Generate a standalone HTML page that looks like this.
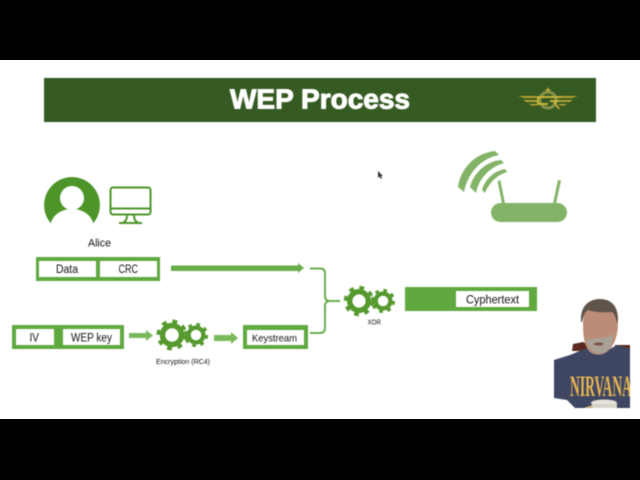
<!DOCTYPE html>
<html><head><meta charset="utf-8"><title>WEP Process</title>
<style>
html,body{margin:0;padding:0;background:#000;width:640px;height:480px;overflow:hidden}
svg{display:block}
#c{filter:blur(.4px)}
text{font-family:"Liberation Sans",sans-serif;fill:#111}
</style></head><body>
<svg width="640" height="480" viewBox="0 0 640 480" xmlns="http://www.w3.org/2000/svg">
<defs>
<clipPath id="av"><path d="M44 205a28 28 0 1 1 56 0c0 8-3 14-7 19H51c-4-5-7-11-7-19z"/></clipPath>
<clipPath id="ph"><rect x="554" y="290" width="76" height="118"/></clipPath>
<g id="gear"><circle r="9.500" fill="none" stroke="#55992f" stroke-width="5.500"/><circle r="13" fill="none" stroke="#55992f" stroke-width="5" stroke-dasharray="4.600 5.610" stroke-linejoin="round"/></g>
</defs>
<rect width="640" height="480" fill="#000"/>
<rect x="0" y="60" width="640" height="359" fill="#fff"/>
<g id="c">
<rect x="44" y="78" width="552" height="44" fill="#355a22"/>
<text x="230" y="108.500" font-size="28" font-weight="700" textLength="180" lengthAdjust="spacingAndGlyphs" style="fill:#fff;stroke:#fff;stroke-width:1">WEP Process</text>
<g stroke="none">
<circle cx="548" cy="100" r="8" fill="none" stroke="#87924a" stroke-width="3"/>
<g fill="#b5a22e">
<path d="M518 96h18l2 2h-14zM578 96h-18l-2 2h14zM523 100h14v2h-11zM573 100h-14v2h11zM529 104h8v1.500h-6zM567 104h-8v1.500h6z"/>
</g>
<path d="M537 96h24v2h-22v5h9v2h-11zM550 100h11l-5 3 4 6h-2l-5-7h-3z" fill="#c9b43a"/>
<path d="M548 87l1 2.500h2l-2 1.500h-2l-2-1.500h2z" fill="#c9b43a"/>
</g>

<!-- Alice -->
<circle cx="72" cy="205" r="28" fill="#4d9429" clip-path="url(#av)"/>
<circle cx="72" cy="198" r="12" fill="#fff"/>
<path d="M50 226c2-11 11-17 22-17s20 6 22 17z" fill="#fff"/>
<g fill="none" stroke="#4d9429" stroke-width="2">
<rect x="110.500" y="187.500" width="40" height="27" rx="2.500"/>
<path d="M111 208.500h39M127 215c0 4-1 6-4 8M134 215c0 4 1 6 4 8M119 223h23"/>
</g>
<text x="88" y="246.500" font-size="11" textLength="23" lengthAdjust="spacingAndGlyphs">Alice</text>

<!-- Data CRC -->
<rect x="36" y="257" width="124" height="24" fill="#60a840"/>
<rect x="39" y="261" width="57" height="16" fill="#fff"/>
<rect x="100" y="261" width="57" height="16" fill="#fff"/>
<text x="56" y="273" font-size="11.500" textLength="22" lengthAdjust="spacingAndGlyphs">Data</text>
<text x="118.500" y="273" font-size="11.500" textLength="19.500" lengthAdjust="spacingAndGlyphs">CRC</text>
<path d="M171 265.500h127v-2.500l6 5-6 5v-2H171z" fill="#6bad4b"/>

<!-- IV WEP -->
<rect x="12" y="325" width="112" height="24" fill="#60a840"/>
<rect x="16" y="329" width="38" height="16" fill="#fff"/>
<rect x="63" y="329" width="57" height="16" fill="#fff"/>
<text x="29.500" y="341.500" font-size="11.500" textLength="9.500" lengthAdjust="spacingAndGlyphs">IV</text>
<text x="71" y="341.500" font-size="11.500" textLength="41" lengthAdjust="spacingAndGlyphs">WEP key</text>
<path d="M129 333h17v-3l7 5.500-7 5.500v-3h-17z" fill="#7ab85c"/>
<use href="#gear" transform="translate(172 335)"/>
<use href="#gear" transform="translate(196 335) scale(.78)"/>
<text x="156" y="364" font-size="7" textLength="54" lengthAdjust="spacingAndGlyphs">Encryption (RC4)</text>
<path d="M214 335h17v-3l7 6-7 6v-3h-17z" fill="#7ab85c"/>
<rect x="243" y="325" width="65" height="24" fill="#60a840"/>
<rect x="247" y="330" width="57" height="15" fill="#fff"/>
<text x="252" y="341.500" font-size="10.500" textLength="45" lengthAdjust="spacingAndGlyphs">Keystream</text>

<!-- bracket -->
<path d="M310 268.500h10q5 0 5 5V296q0 5 5 5h10M330 301q-5 0-5 5v22q0 5-5 5h-10" fill="none" stroke="#6bad4b" stroke-width="2"/>
<use href="#gear" transform="translate(359 301) scale(.98)"/>
<use href="#gear" transform="translate(383 301) scale(.78)"/>
<text x="367.500" y="324.500" font-size="7" textLength="13.500" lengthAdjust="spacingAndGlyphs">XOR</text>

<!-- Cyphertext -->
<rect x="405" y="287" width="132" height="24" fill="#60a840"/>
<rect x="456" y="291" width="73" height="16" fill="#fff"/>
<text x="466" y="303.500" font-size="11.500" textLength="53" lengthAdjust="spacingAndGlyphs">Cyphertext</text>

<!-- router -->
<g fill="#82b366">
<rect x="491" y="203" width="76" height="19" rx="9.500"/>
<path d="M497.500 181l3-.500 4.500 23h-3zM558 180l3 .500-5 23h-3z"/>
<path d="M458 187C461 167 476 153 495 151l4 4C482 158 468 172 464 192z"/>
<path d="M470 187C473 174 486 161 501 160l3 3C490 167 479 178 476 193z"/>
<path d="M482 190C485 180 493 171 505 169l2 3C497 175 489 183 485 193z"/>
</g>
<path d="M378 171v7l1.500-1.500 1.500 2.500 1-.5-1-2.500h2z" fill="#333"/>

<!-- presenter -->
<g clip-path="url(#ph)">
<path d="M572 351l1-7 10-2 6 3v6zM615 345h15v8h-15z" fill="#5c2a20"/>
<path d="M554 360l16-5 17-7 14 6 16-9 13 4v59H575l-8-8-13-2z" fill="#3f4662"/>
<path d="M583 322c0 14 1 23 6 29 5 5 14 5 20-1 6-6 9-16 9-27 0-14-6-22-17-22s-18 8-18 21z" fill="#bb8d76"/>
<path d="M581 322c-1-15 7-23 19-23 11 0 18 7 18 20l-1 5c-1-7-3-11-5-12-8 1-18 0-24-2-3 2-5 6-6 12z" fill="#5f544a"/>
<path d="M586 340c3-1 9-1 12-2 5 0 10 0 15-4 0 8-2 15-7 18-6 3-16 2-20-12z" fill="#a9a196"/>
<path d="M593 344c4-2 8-2 11 0-3 2-8 2-11 0z" fill="#7b4a40"/>
<text x="570" y="396" font-size="30" font-weight="700" textLength="62" lengthAdjust="spacingAndGlyphs" style="font-family:'Liberation Serif',serif;fill:#e6b650">NIRVANA</text>
<ellipse cx="604" cy="403" rx="13" ry="3.500" fill="#e8e3da"/>
<rect x="592" y="404" width="25" height="4" fill="#d8d3cb"/>
<path d="M584 408l8-3v3z" fill="#c9a77c"/>
</g>
</g>
</svg>
</body></html>
